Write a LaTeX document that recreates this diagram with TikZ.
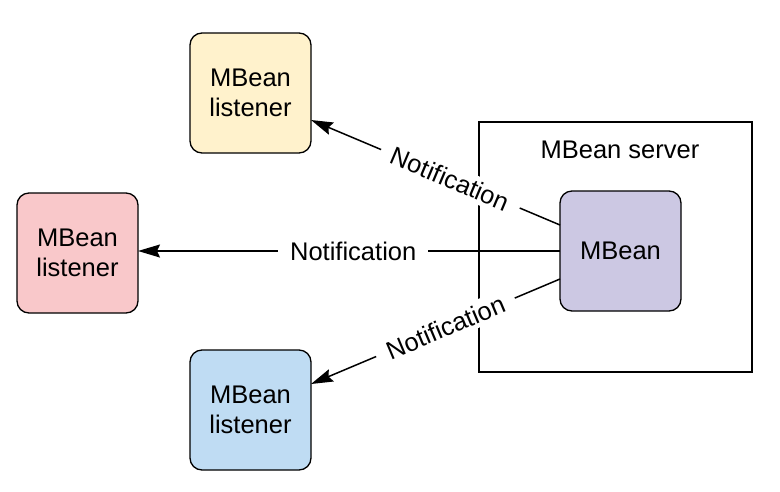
\documentclass[tikz,border=0pt]{standalone}
\usepackage{fontspec}
\setmainfont{Liberation Sans}
\usetikzlibrary{arrows.meta}
\definecolor{cyel}{HTML}{FFF2CC}
\definecolor{cred}{HTML}{F9C8CA}
\definecolor{cblue}{HTML}{BFDCF3}
\definecolor{cpur}{HTML}{CCC8E3}
\begin{document}
\begin{tikzpicture}[x=1pt,y=-1pt,
  bean/.style={draw=black,line width=1.3pt,rounded corners=12pt,minimum width=121pt,minimum height=120pt,inner sep=0pt,align=center,font=\fontsize{25.5}{30.5}\selectfont},
  conn/.style={line width=1.5pt,-{Stealth[length=22pt,width=13pt,inset=3pt]}},
  lab/.style={fill=white,inner xsep=12pt,inner ysep=4pt,font=\fontsize{25.5}{30.5}\selectfont}]
\useasboundingbox (0,0) rectangle (780,491);
\node[draw=black,line width=2pt,minimum width=273pt,minimum height=250pt,inner sep=0pt] (srv) at (615.5,247) {};
\node[font=\fontsize{25.5}{30.5}\selectfont] (srvlab) at (620,150) {MBean server};
\node[bean,fill=cyel] (top) at (250.5,93) {MBean\\listener};
\node[bean,fill=cred] (left) at (77.5,253) {MBean\\listener};
\node[bean,fill=cblue] (bot) at (250.5,410) {MBean\\listener};
\node[bean,fill=cpur] (mb) at (620.5,251) {MBean};
\coordinate (t1) at (560,225);
\coordinate (t2) at (311,120);
\coordinate (m1) at (560,251);
\coordinate (m2) at (138,251);
\coordinate (b1) at (560,279);
\coordinate (b2) at (311,384);
\draw[conn] (t1) -- node[lab,sloped,pos=0.44] {Notification} (t2);
\draw[conn] (m1) -- node[lab,pos=0.49] {Notification} (m2);
\draw[conn] (b1) -- node[lab,sloped,pos=0.46] {Notification} (b2);
\end{tikzpicture}
\end{document}
